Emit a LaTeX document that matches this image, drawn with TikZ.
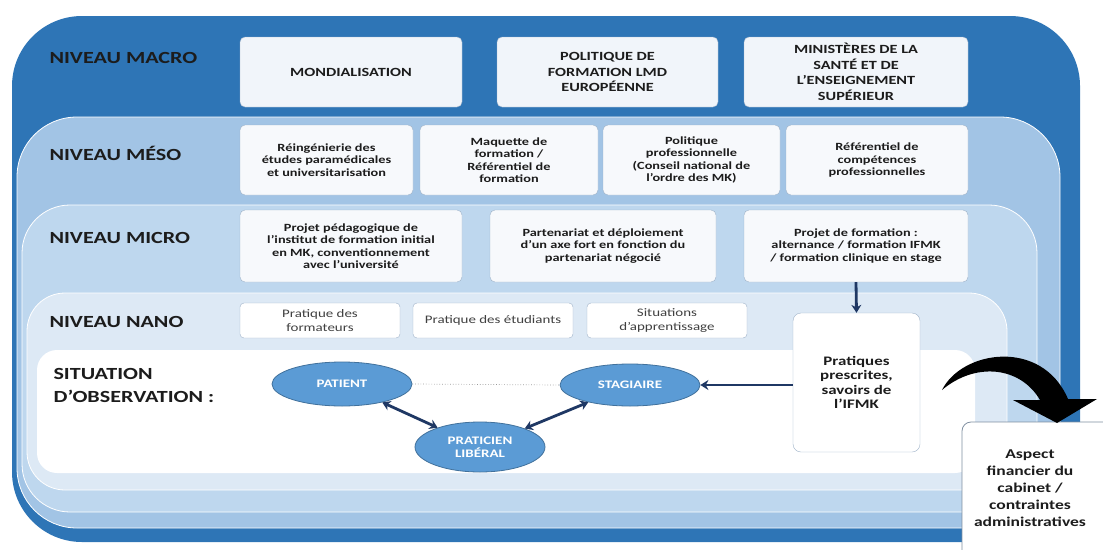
\documentclass[tikz,border=0pt]{standalone}
\usepackage{fontspec}
\setmainfont{Carlito}[FakeStretch=1.3]
\usetikzlibrary{arrows.meta}
\usetikzlibrary{shapes.geometric}

\definecolor{macroblue}{HTML}{2E75B6}
\definecolor{mesoblue}{HTML}{A2C4E5}
\definecolor{microblue}{HTML}{BED7EE}
\definecolor{nanoblue}{HTML}{DDE9F5}
\definecolor{boxfill}{HTML}{F1F5FA}
\definecolor{boxline}{HTML}{9EB2C8}
\definecolor{ellfill}{HTML}{5B9BD5}
\definecolor{ellline}{HTML}{41719C}
\definecolor{arrowblue}{HTML}{1F3864}
\definecolor{textdark}{HTML}{1C1C1C}

\begin{document}
\begin{tikzpicture}[x=1pt, y=-1pt,
    level/.style={anchor=west, align=left, text=textdark, font=\fontsize{17}{23}\selectfont\bfseries},
    macrobox/.style={draw=boxline, fill=boxfill, rounded corners=5pt, align=center, text=textdark,
        minimum height=70pt, inner sep=2pt, font=\fontsize{12.5}{15.5}\selectfont\bfseries},
    mesobox/.style={macrobox, fill=boxfill!60!white, font=\fontsize{11}{12.5}\selectfont\bfseries},
    nanobox/.style={draw=boxline, fill=white, rounded corners=4pt, align=center, text=black!75,
        minimum height=35pt, minimum width=160pt, inner sep=1pt, font=\fontsize{11.5}{13.5}\selectfont},
    actor/.style={ellipse, draw=ellline, fill=ellfill, line width=0.8pt, align=center, text=white,
        inner sep=0pt, font=\fontsize{11.5}{13.5}\selectfont\bfseries},
    link/.style={arrowblue, line width=2.8pt, -{Stealth[length=8pt, width=10pt]}},
    twolink/.style={link, {Stealth[length=8pt, width=10pt]}-{Stealth[length=8pt, width=10pt]}}]

    \useasboundingbox (0,0) rectangle (1103,549);
    \clip (0,0) rectangle (1103,549);

    % Layers
    \fill[macroblue, rounded corners=70pt] (12,16) rectangle (1080,542);
    \filldraw[fill=mesoblue, draw=white, line width=0.8pt, rounded corners=60pt] (17,117) rectangle (1060,528);
    \filldraw[fill=microblue, draw=white, line width=0.8pt, rounded corners=48pt] (22,205) rectangle (1037,512);
    \filldraw[fill=nanoblue, draw=white, line width=0.8pt, rounded corners=38pt] (27,293) rectangle (1007,490);
    \fill[white, rounded corners=20pt] (37,350) rectangle (975,473);

    % Level labels
    \node[level] (macro) at (46,58) {NIVEAU MACRO};
    \node[level] (meso) at (46,153) {NIVEAU MÉSO};
    \node[level] (micro) at (46,238) {NIVEAU MICRO};
    \node[level] (nano) at (46,322) {NIVEAU NANO};
    \node[level] (observ) at (50,385) {SITUATION\\D’OBSERVATION :};

    % Macro boxes
    \node[macrobox, minimum width=222pt] (mondial) at (351,72) {MONDIALISATION};
    \node[macrobox, minimum width=221pt] (lmd) at (607.5,72) {POLITIQUE DE\\FORMATION LMD\\EUROPÉENNE};
    \node[macrobox, minimum width=224pt] (minist) at (856,72) {MINISTÈRES DE LA\\SANTÉ ET DE\\L’ENSEIGNEMENT\\SUPÉRIEUR};

    % Meso boxes
    \node[mesobox, minimum width=173pt] (reing) at (326.5,160) {Réingénierie des\\études paramédicales\\et universitarisation};
    \node[mesobox, minimum width=178pt] (maquette) at (509,160) {Maquette de\\formation /\\Référentiel de\\formation};
    \node[mesobox, minimum width=177pt] (polpro) at (691.5,160) {Politique\\professionnelle\\(Conseil national de\\l’ordre des MK)};
    \node[mesobox, minimum width=182pt] (refcomp) at (877,160) {Référentiel de\\compétences\\professionnelles};

    % Micro boxes
    \node[mesobox, minimum width=222pt, minimum height=72pt] (projped) at (351,246) {Projet pédagogique de\\l’institut de formation initial\\en MK, conventionnement\\avec l’université};
    \node[mesobox, minimum width=226pt, minimum height=72pt] (partenar) at (603,246) {Partenariat et déploiement\\d’un axe fort en fonction du\\partenariat négocié};
    \node[mesobox, minimum width=224pt, minimum height=72pt] (projform) at (856,246) {Projet de formation :\\alternance / formation IFMK\\/ formation clinique en stage};

    % Nano boxes
    \node[nanobox] (formateurs) at (320,320.5) {Pratique des\\formateurs};
    \node[nanobox] (etudiants) at (493,320.5) {Pratique des étudiants};
    \node[nanobox] (situations) at (667,320.5) {Situations\\d’apprentissage};
    \node[nanobox, minimum width=127pt, minimum height=139pt, rounded corners=8pt, text=textdark,
        font=\fontsize{13}{14.5}\selectfont\bfseries] (pratiques) at (856.5,382.5) {Pratiques\\prescrites,\\savoirs de\\l’IFMK};

    % Observation
    \node[actor, minimum width=140pt, minimum height=44pt] (patient) at (342,384) {PATIENT};
    \node[actor, minimum width=140pt, minimum height=42pt] (stagiaire) at (630,385) {STAGIAIRE};
    \node[actor, minimum width=130pt, minimum height=50pt] (praticien) at (480,447) {PRATICIEN\\LIBÉRAL};

    \draw[black!40, dotted, line width=0.7pt] (patient.east) -- (stagiaire.west);
    \draw[twolink] (patient) -- (praticien);
    \draw[twolink] (praticien) -- (stagiaire);
    \draw[link] (projform.south) -- (pratiques.north);
    \draw[link] (stagiaire.east -| pratiques.west) -- (stagiaire.east);

    % Aspect financier
    \filldraw[fill=white, draw=boxline!80!black, line width=0.8pt, rounded corners=9pt] (962,422) rectangle (1130,580);
    \node[align=center, text=textdark, font=\fontsize{13.5}{17}\selectfont\bfseries] (aspect) at (1030,488)
        {Aspect\\financier du\\cabinet /\\contraintes\\administratives};

    % Curved arrow
    \fill[black] (942,390) .. controls (962,350) and (1042,338) .. (1068,399) -- (1097,399) -- (1057,423)
        -- (1013,400) -- (1040,400) .. controls (1020,366) and (975,362) .. (942,390) -- cycle;
\end{tikzpicture}
\end{document}
